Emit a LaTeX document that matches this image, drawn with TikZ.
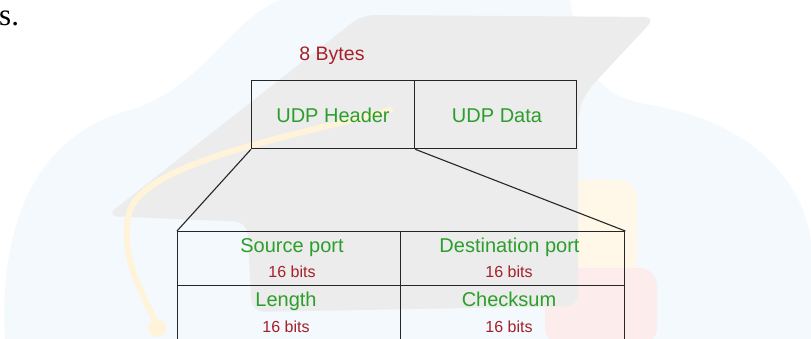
\documentclass[tikz,border=0pt]{standalone}
\usepackage{fontspec}
\setmainfont{Liberation Sans}
\newfontfamily\bodyserif{Liberation Serif}
\begin{document}
\begin{tikzpicture}[x=1pt,y=-1pt,
  frame/.style={draw=black!85,line width=1.3pt},
  cell/.style={frame,rectangle,inner sep=0pt,anchor=north west},
  field/.style={text=fieldgreen,font=\fontsize{20}{22}\selectfont,anchor=base,inner sep=0pt},
  size/.style={text=sizered,font=\fontsize{16}{18}\selectfont,anchor=base,inner sep=0pt},
  link/.style={draw=black!85,line width=1.1pt}]
\definecolor{fieldgreen}{RGB}{44,158,44}
\definecolor{sizered}{RGB}{165,32,42}
\definecolor{wmblue}{RGB}{243,249,252}
\definecolor{wmgray}{RGB}{236,236,236}
\definecolor{wmyellow}{RGB}{255,243,218}
\definecolor{wmbook}{RGB}{255,248,232}
\definecolor{wmpink}{RGB}{253,236,236}
\useasboundingbox (0,0) rectangle (811,339);
% faint background emblem
\fill[wmblue] (5,339) .. controls (0,250) and (20,140) .. (130,110)
  .. controls (200,90) and (230,20) .. (280,0) -- (570,0)
  .. controls (580,60) and (590,95) .. (650,105)
  .. controls (740,120) and (800,170) .. (811,240) -- (811,339) -- cycle;
\fill[wmbook,rounded corners=18pt] (550,180) rectangle (637,278);
\fill[wmpink,rounded corners=18pt] (545,268) rectangle (657,345);
\fill[wmgray,rounded corners=12pt] (106,216) -- (362,15) -- (656,17) -- (586,92)
  -- (578,112) -- (578,306) -- (252,312) -- (247,222) -- cycle;
\draw[wmyellow,line width=6pt,line cap=round] (390,110)
  .. controls (300,135) and (150,160) .. (130,210)
  .. controls (118,250) and (140,290) .. (157,325);
\fill[wmyellow] (157,328) circle (9);
% sentence fragment
\node[font=\bodyserif\fontsize{31}{33}\selectfont,anchor=base west,inner sep=0pt] (frag) at (-1,25.5) {s.};
% UDP datagram
\node[cell,minimum width=163pt,minimum height=68pt] (hdr) at (251,80) {};
\node[cell,minimum width=162pt,minimum height=68pt] (data) at (414,80) {};
\node[field] (hdrtxt) at (333,122.7) {UDP Header};
\node[field] (datatxt) at (497,123) {UDP Data};
\node[size,font=\fontsize{19.5}{21}\selectfont] (bytes) at (332,60.7) {8 Bytes};
% header fields
\node[cell,minimum width=223pt,minimum height=54pt] (src) at (177,231) {};
\node[cell,minimum width=224pt,minimum height=54pt] (dst) at (400,231) {};
\node[cell,minimum width=223pt,minimum height=58pt] (len) at (177,285) {};
\node[cell,minimum width=224pt,minimum height=58pt] (chk) at (400,285) {};
\node[field] (srctxt) at (292,252.7) {Source port};
\node[size] (srcbits) at (292,277) {16 bits};
\node[field] (dsttxt) at (509.5,252.7) {Destination port};
\node[size] (dstbits) at (509,277) {16 bits};
\node[field] (lentxt) at (286,306) {Length};
\node[size] (lenbits) at (286,332.7) {16 bits};
\node[field] (chktxt) at (509,306) {Checksum};
\node[size] (chkbits) at (509,332.7) {16 bits};
% expansion lines
\draw[link] (hdr.south west) -- (src.north west);
\draw[link] (hdr.south east) -- (dst.north east);
\end{tikzpicture}
\end{document}
